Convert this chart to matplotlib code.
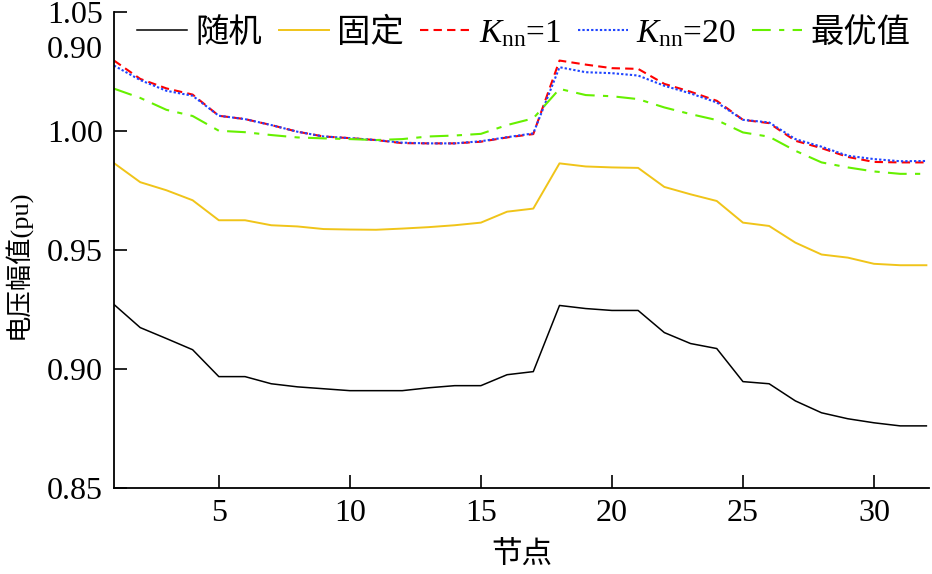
import numpy as np
import matplotlib
matplotlib.use('Agg')
import matplotlib.pyplot as plt
from matplotlib import transforms

#-------------------------------------------------------------------------------
# Node voltage magnitude profiles
#-------------------------------------------------------------------------------

nodes = np.arange(1, 33)

v_random = [0.9271, 0.9174, 0.9128, 0.9081, 0.8968, 0.8968, 0.8938, 0.8925,
            0.8917, 0.8909, 0.8909, 0.8909, 0.8921, 0.8930, 0.8930, 0.8976,
            0.8989, 0.9267, 0.9254, 0.9246, 0.9246, 0.9153, 0.9107, 0.9086,
            0.8947, 0.8938, 0.8866, 0.8816, 0.8791, 0.8774, 0.8761, 0.8761]

v_fixed = [0.9865, 0.9785, 0.9751, 0.9709, 0.9625, 0.9625, 0.9604, 0.9599,
           0.9588, 0.9586, 0.9585, 0.9590, 0.9596, 0.9604, 0.9615, 0.9661,
           0.9674, 0.9864, 0.9851, 0.9847, 0.9845, 0.9765, 0.9734, 0.9706,
           0.9615, 0.9601, 0.9531, 0.9481, 0.9468, 0.9442, 0.9436, 0.9436]

v_knn1 = [1.0296, 1.0219, 1.0179, 1.0153, 1.0064, 1.0050, 1.0025, 0.9997,
          0.9977, 0.9970, 0.9962, 0.9949, 0.9948, 0.9948, 0.9955, 0.9973,
          0.9987, 1.0296, 1.0279, 1.0264, 1.0261, 1.0198, 1.0165, 1.0127,
          1.0047, 1.0033, 0.9959, 0.9928, 0.9891, 0.9870, 0.9868, 0.9868]

v_knn20 = [1.0275, 1.0214, 1.0169, 1.0148, 1.0064, 1.0050, 1.0025, 0.9997,
           0.9977, 0.9970, 0.9962, 0.9951, 0.9948, 0.9948, 0.9957, 0.9974,
           0.9990, 1.0268, 1.0247, 1.0243, 1.0233, 1.0190, 1.0158, 1.0120,
           1.0047, 1.0036, 0.9966, 0.9934, 0.9896, 0.9882, 0.9873, 0.9874]

v_opt = [1.0178, 1.0139, 1.0089, 1.0063, 1.0001, 0.9995, 0.9983, 0.9973,
         0.9969, 0.9966, 0.9962, 0.9966, 0.9977, 0.9981, 0.9988, 1.0025,
         1.0053, 1.0177, 1.0151, 1.0146, 1.0134, 1.0099, 1.0071, 1.0046,
         0.9994, 0.9976, 0.9917, 0.9868, 0.9847, 0.9830, 0.9820, 0.9820]

labels = ['随机', '固定', r'$K_{\mathrm{nn}}$=1', r'$K_{\mathrm{nn}}$=20', '最优值']
yticks = [0.85, 0.90, 0.95, 1.00, 1.05]
ytick_labels = ['0.85', '0.90', '0.95', '1.00', '1.05']
stray_label = '0.90'   # extra label printed near the top of the y axis
stray_y = 1.034

FONTS = ['Liberation Serif', 'Noto Sans CJK SC']
plt.rcParams['font.family'] = FONTS
plt.rcParams['mathtext.fontset'] = 'custom'
plt.rcParams['mathtext.rm'] = 'Liberation Serif'
plt.rcParams['mathtext.it'] = 'Liberation Serif:italic'

fig = plt.figure(figsize=(9.32, 5.74), dpi=100)
ax = fig.add_axes([114/932, 86/574, 815/932, 476/574])

ax.plot(nodes, v_random, color='black', lw=1.1, label=labels[0])
ax.plot(nodes, v_fixed, color='#F0C419', lw=1.4, label=labels[1])
ax.plot(nodes, v_knn1, color='#FF0000', lw=1.5, ls=(0, (4, 2.5)), label=labels[2])
ax.plot(nodes, v_knn20, color='#1F45FF', lw=1.5, ls=(0, (1.1, 1.0)), label=labels[3])
ax.plot(nodes, v_opt, color='#66F000', lw=1.5, ls=(0, (9, 4, 2.5, 4)), label=labels[4])

ax.set_xlim(1, 32.1)
ax.set_ylim(0.85, 1.05)
ax.set_xticks([5, 10, 15, 20, 25, 30])
ax.set_yticks(yticks)
ax.set_yticklabels(ytick_labels)

for s in ['top', 'right']:
    ax.spines[s].set_visible(False)
for s in ['left', 'bottom']:
    ax.spines[s].set_linewidth(1.3)

ax.tick_params(direction='in', length=9.5, width=1.2, labelsize=23, pad=8)

trans = transforms.blended_transform_factory(ax.transAxes, ax.transData)
ax.text(-0.0135, stray_y, stray_label, transform=trans, ha='right', va='center',
        fontsize=23)

ax.set_xlabel('节点', fontsize=22)
ax.xaxis.set_label_coords(0.5, -0.11)
ax.set_ylabel('电压幅值(pu)', fontsize=19)
ax.yaxis.set_label_coords(-0.102, 0.47)

ax.legend(loc='upper left', bbox_to_anchor=(0.028, 0.988), ncol=5, frameon=False,
          fontsize=24, handlelength=1.5, handletextpad=0.25, columnspacing=0.5,
          borderpad=0, borderaxespad=0)

plt.savefig('out.png', dpi=100)
plt.close()
